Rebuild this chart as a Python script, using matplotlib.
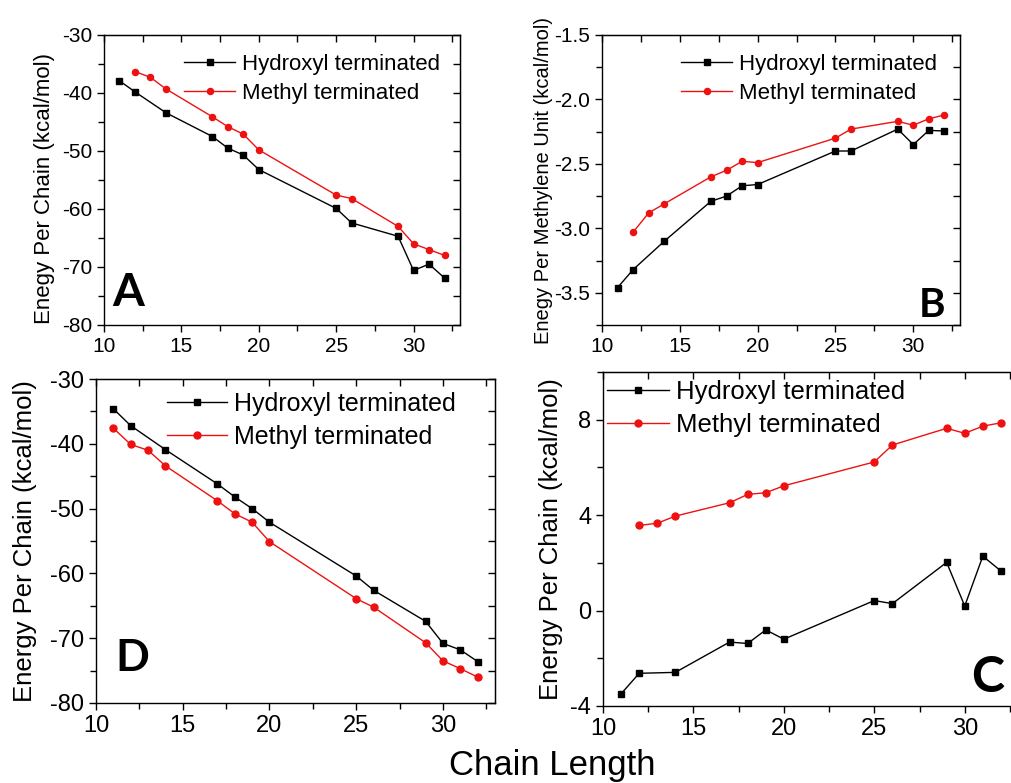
import numpy as np
import matplotlib
matplotlib.use("Agg")
import matplotlib.pyplot as plt
from matplotlib.ticker import MultipleLocator

plt.rcParams['font.family'] = ['Liberation Sans', 'DejaVu Sans']
plt.rcParams['axes.unicode_minus'] = False

# chain lengths
x_oh = [11, 12, 14, 17, 18, 19, 20, 25, 26, 29, 30, 31, 32]
x_me_a = [12, 13, 14, 17, 18, 19, 20, 25, 26, 29, 30, 31, 32]
x_me_d = [11, 12, 13, 14, 17, 18, 19, 20, 25, 26, 29, 30, 31, 32]

# A: energy per chain
a_oh = [-37.9, -39.8, -43.4, -47.5, -49.5, -50.7, -53.2, -59.9, -62.4, -64.7, -70.6, -69.5, -71.9]
a_me = [-36.3, -37.3, -39.3, -44.1, -45.8, -47.1, -49.8, -57.6, -58.2, -63.0, -66.0, -67.0, -68.0]

# B: energy per methylene unit
b_oh = [-3.46, -3.32, -3.10, -2.79, -2.75, -2.67, -2.66, -2.40, -2.40, -2.23, -2.35, -2.24, -2.245]
b_me = [-3.03, -2.88, -2.81, -2.60, -2.55, -2.48, -2.49, -2.30, -2.23, -2.17, -2.20, -2.15, -2.12]

# D: energy per chain
d_oh = [-34.6, -37.2, -40.9, -46.2, -48.2, -50.0, -52.1, -60.4, -62.6, -67.4, -70.8, -71.8, -73.6]
d_me = [-37.6, -40.1, -41.0, -43.4, -48.8, -50.8, -52.1, -55.1, -63.9, -65.2, -70.7, -73.5, -74.7, -76.0]

# C: energy per chain
c_oh = [-3.49, -2.63, -2.59, -1.32, -1.38, -0.81, -1.20, 0.42, 0.29, 2.02, 0.19, 2.28, 1.66]
c_me = [3.57, 3.66, 3.96, 4.52, 4.87, 4.94, 5.23, 6.23, 6.94, 7.64, 7.43, 7.73, 7.87]

fig = plt.figure(figsize=(10.11, 7.83), dpi=100)

W, H = 1011.0, 783.0


def make_axes(l, t, r, b):
    return fig.add_axes([l / W, 1 - b / H, (r - l) / W, (b - t) / H])


def style(ax, ylim, ymaj, ymin, fs_tick):
    ax.set_xlim(10, 33)
    ax.set_ylim(*ylim)
    ax.xaxis.set_major_locator(MultipleLocator(5))
    ax.xaxis.set_minor_locator(MultipleLocator(2.5))
    ax.yaxis.set_major_locator(MultipleLocator(ymaj))
    ax.yaxis.set_minor_locator(MultipleLocator(ymin))
    ax.tick_params(which='both', direction='out', labelsize=fs_tick, width=1.0)
    ax.tick_params(which='major', length=5)
    ax.tick_params(which='minor', length=4)
    for s in ax.spines.values():
        s.set_linewidth(1.0)
    # mirrored inward ticks on top / right
    top = ax.secondary_xaxis('top')
    top.xaxis.set_major_locator(MultipleLocator(2.5))
    top.tick_params(direction='in', length=5, labeltop=False, width=1.0)
    right = ax.secondary_yaxis('right')
    right.yaxis.set_major_locator(MultipleLocator(ymin))
    right.tick_params(direction='in', length=5, labelright=False, width=1.0)


def plot_pair(ax, xo, yo, xm, ym, ms):
    ax.plot(xo, yo, '-s', color='black', lw=1.0, ms=ms, label='Hydroxyl terminated')
    ax.plot(xm, ym, '-o', color='#ee1111', lw=1.0, ms=ms + 0.4, label='Methyl terminated')


def legend(ax, x, y, fs, hl):
    ax.legend(loc='upper left', bbox_to_anchor=(x, y), bbox_transform=fig.transFigure,
              frameon=False, fontsize=fs, handlelength=hl, handletextpad=0.3,
              labelspacing=0.35, borderpad=0, borderaxespad=0)


letter_font = dict(family=['Lato', 'DejaVu Sans'], weight='bold')

# Panel A
axA = make_axes(104, 35, 460, 325)
plot_pair(axA, x_oh, a_oh, x_me_a, a_me, 4.0)
style(axA, (-80, -30), 10, 5, 15)
axA.set_ylabel('Enegy Per Chain (kcal/mol)', fontsize=16)
axA.yaxis.set_label_coords(-0.138, 0.47)
axA.text(0.022, 0.065, 'A', transform=axA.transAxes, fontsize=33, ha='left', va='baseline', **letter_font)
legend(axA, 184 / W, 1 - 54 / H, 16, 2.3)

# Panel B
axB = make_axes(602, 35, 960, 325)
plot_pair(axB, x_oh, b_oh, x_me_a, b_me, 4.0)
style(axB, (-3.75, -1.5), 0.5, 0.25, 15)
axB.yaxis.set_major_formatter(plt.FormatStrFormatter('%.1f'))
axB.set_ylabel('Enegy Per Methylene Unit (kcal/mol)', fontsize=14.5)
axB.yaxis.set_label_coords(-0.136, 0.5)
axB.text(0.958, 0.028, 'B', transform=axB.transAxes, fontsize=29, ha='right', va='baseline', **letter_font)
legend(axB, 681 / W, 1 - 54 / H, 16, 2.3)

# Panel D
axD = make_axes(96, 379, 495, 703)
plot_pair(axD, x_oh, d_oh, x_me_d, d_me, 4.6)
style(axD, (-80, -30), 10, 5, 17)
axD.set_ylabel('Energy Per Chain (kcal/mol)', fontsize=18.5)
axD.yaxis.set_label_coords(-0.148, 0.5)
axD.text(0.048, 0.10, 'D', transform=axD.transAxes, fontsize=32, ha='left', va='baseline', **letter_font)
legend(axD, 167 / W, 1 - 392 / H, 18, 2.4)

# Panel C (extends past the right edge, as in the source)
axC = make_axes(603, 372, 1019, 706)
plot_pair(axC, x_oh, c_oh, x_me_a, c_me, 4.6)
style(axC, (-4, 10), 4, 2, 17)
axC.set_ylabel('Energy Per Chain (kcal/mol)', fontsize=18.5)
axC.yaxis.set_label_coords(-0.096, 0.5)
axC.text(0.964, 0.042, 'C', transform=axC.transAxes, fontsize=36, ha='right', va='baseline', **letter_font)
legend(axC, 607 / W, 1 - 380 / H, 18.5, 2.4)

fig.text(552 / W, 1 - 766 / H, 'Chain Length', fontsize=25, ha='center', va='center')

fig.savefig('out.png', dpi=100)
